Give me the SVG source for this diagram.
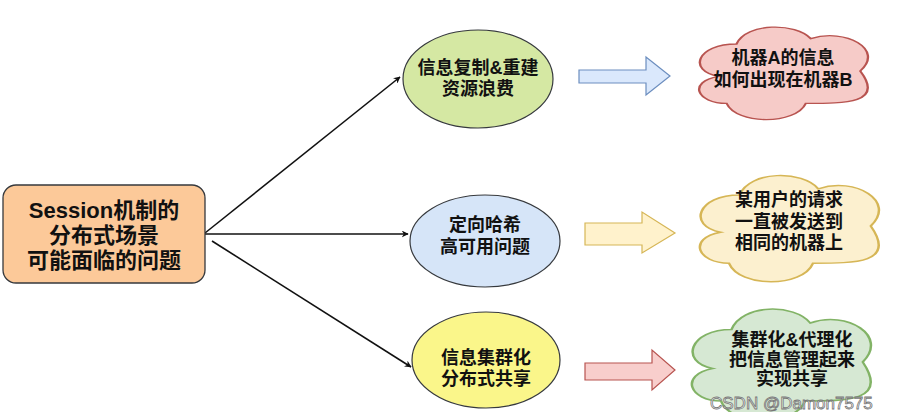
<svg xmlns="http://www.w3.org/2000/svg" width="905" height="412" viewBox="0 0 905 412">
<defs>
<style>
.t{font-family:"Liberation Sans","Noto Sans CJK SC",sans-serif;font-weight:bold;fill:#111;text-anchor:middle;dominant-baseline:central}
.t18{font-size:18px}
.t22{font-size:22px}
.edge{stroke:#111;stroke-width:1.6;fill:none;marker-end:url(#ah)}
.cloud{vector-effect:non-scaling-stroke;stroke-width:1.2}
.wm{font-family:"Liberation Sans",sans-serif;font-size:17px;fill:#fff;fill-opacity:0.7;stroke:#777;stroke-width:0.8;text-anchor:start}
</style>
<marker id="ah" viewBox="0 0 10 10" refX="9" refY="5" markerWidth="7" markerHeight="7" orient="auto" markerUnits="userSpaceOnUse">
<path d="M0,0 L10,5 L0,10 L3,5 Z" fill="#111"/>
</marker>
<path id="cloudShape" d="M25,25 C5,25 0,50 16,55 C0,60 5,80 20,80 C25,100 55,100 60,80 C80,80 100,80 87.5,50 C100,30 80,10 62.5,20 C55,5 30,5 25,25 Z"/>
</defs>
<rect width="905" height="412" fill="#fff"/>

<g id="connectors">
<path class="edge" d="M205,233 L400,77"/>
<path class="edge" d="M205,234 L408,234"/>
<path class="edge" d="M212,241 L411,367"/>
<path d="M579,70 L646,70 L646,57 L670,76 L646,95 L646,83 L579,83 Z" fill="#DAE8FC" stroke="#6C8EBF" stroke-width="1.2"/>
<path d="M585,223 L642,223 L642,212 L675,233 L642,253 L642,245 L585,245 Z" fill="#FFF2CC" stroke="#D6B656" stroke-width="1.2"/>
<path d="M585,363 L652,363 L652,350 L675,370 L652,390 L652,380 L585,380 Z" fill="#F8CECC" stroke="#B85450" stroke-width="1.2"/>
</g>

<g id="root">
<rect x="3" y="185" width="202" height="98" rx="13" ry="13" fill="#FCC999" stroke="#36393d" stroke-width="1.3"/>
<text class="t t22" x="104" y="210">Session机制的</text>
<text class="t t22" x="104" y="235">分布式场景</text>
<text class="t t22" x="104" y="260">可能面临的问题</text>
</g>

<g id="e1">
<ellipse cx="478" cy="79" rx="75" ry="49" fill="#D5E8A3" stroke="#36393d" stroke-width="1.2"/>
<text class="t t18" x="478" y="68">信息复制&amp;重建</text>
<text class="t t18" x="478" y="89">资源浪费</text>
</g>

<g id="e2">
<ellipse cx="485" cy="241" rx="75" ry="46" fill="#D6E5F8" stroke="#36393d" stroke-width="1.2"/>
<text class="t t18" x="485" y="225">定向哈希</text>
<text class="t t18" x="485" y="247">高可用问题</text>
</g>

<g id="e3">
<ellipse cx="486" cy="360" rx="74" ry="48" fill="#FAF68A" stroke="#36393d" stroke-width="1.2"/>
<text class="t t18" x="486" y="358">信息集群化</text>
<text class="t t18" x="486" y="379">分布式共享</text>
</g>

<g id="c1">
<use href="#cloudShape" class="cloud" transform="translate(687,17) scale(1.98,1.08)" fill="#F6CBC8" stroke="#B85450"/>
<text class="t t18" x="783" y="58">机器A的信息</text>
<text class="t t18" x="783" y="80">如何出现在机器B</text>
</g>

<g id="c2">
<use href="#cloudShape" class="cloud" transform="translate(687,164) scale(2.1,1.24)" fill="#FCF0CF" stroke="#D6B656"/>
<text class="t t18" x="789" y="200">某用户的请求</text>
<text class="t t18" x="789" y="222">一直被发送到</text>
<text class="t t18" x="789" y="243">相同的机器上</text>
</g>

<g id="c3">
<use href="#cloudShape" class="cloud" transform="translate(679,297) scale(2.1,1.3)" fill="#D6E8D3" stroke="#82B366"/>
<text class="t t18" x="792" y="340">集群化&amp;代理化</text>
<text class="t t18" x="792" y="360">把信息管理起来</text>
<text class="t t18" x="792" y="379">实现共享</text>
</g>

<text class="wm" x="710" y="409">CSDN @Damon7575</text>
</svg>
